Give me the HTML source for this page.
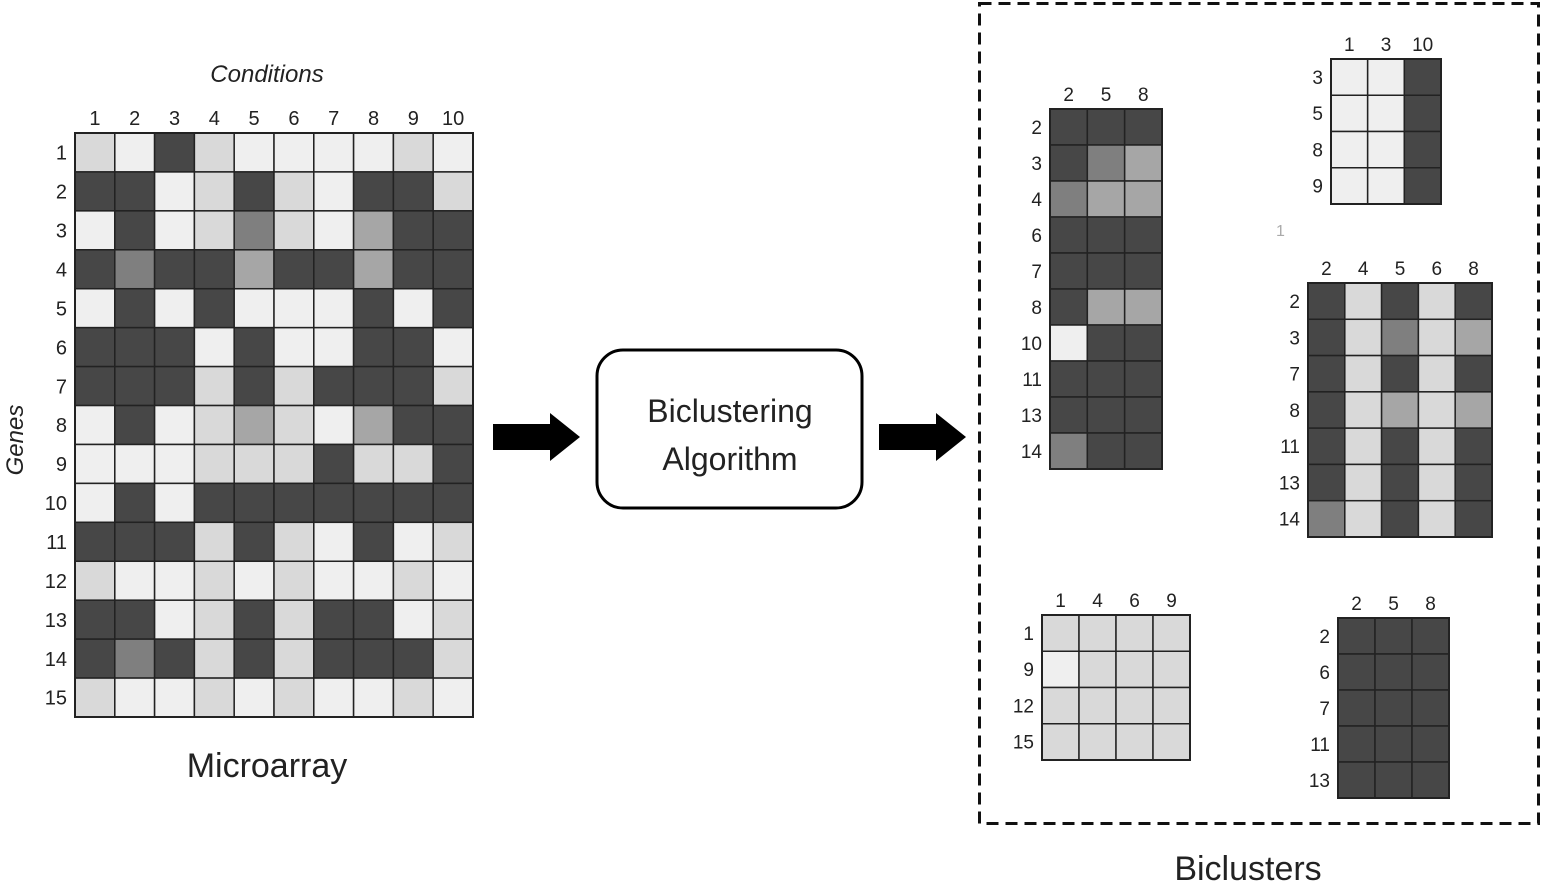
<!DOCTYPE html>
<html><head><meta charset="utf-8">
<style>
html,body{margin:0;padding:0;background:#fff;width:1545px;height:886px;overflow:hidden}
svg{display:block}
text{font-family:"Liberation Sans",sans-serif;fill:#222}
</style></head>
<body>
<svg id="s" width="1545" height="886" viewBox="0 0 1545 886">
  <text x="267" y="82" font-size="24" font-style="italic" text-anchor="middle">Conditions</text>
  <text x="0" y="0" font-size="24" font-style="italic" text-anchor="middle" transform="translate(23,440) rotate(-90)">Genes</text>
  <text x="267" y="777" font-size="34" text-anchor="middle">Microarray</text>
  <polygon points="493,424 550,424 550,413 580,437 550,461 550,450 493,450" fill="#000"/>
  <polygon points="879,424 936,424 936,413 966,437 936,461 936,450 879,450" fill="#000"/>
  <rect x="597" y="350" width="265" height="158" rx="26" fill="#fff" stroke="#000" stroke-width="3"/>
  <text x="730" y="422" font-size="32" text-anchor="middle">Biclustering</text>
  <text x="730" y="470" font-size="32" text-anchor="middle">Algorithm</text>
  <rect x="979.5" y="3.5" width="559" height="820" fill="none" stroke="#111" stroke-width="3" stroke-dasharray="12,7"/>
  <text x="1248" y="880" font-size="34" text-anchor="middle">Biclusters</text>
  <text x="1276" y="236" font-size="16" fill="#aaa" style="fill:#aaa">1</text>
</svg>
<script>
// D=dark, W=near white, L=light grey, M=medium grey, A=mid-light grey
const mainCols = ["1","2","3","4","5","6","7","8","9","10"];
const mainRows = ["1","2","3","4","5","6","7","8","9","10","11","12","13","14","15"];
const mainCells = [
"LWDLWWWWLW","DDWLDLWDDL","WDWLMLWADD","DMDDADDADD","WDWDWWWDWD",
"DDDWDWWDDW","DDDLDLDDDL","WDWLALWADD","WWWLLLDLLD","WDWDDDDDDD",
"DDDLDLWDWL","LWWLWLWWLW","DDWLDLDDWL","DMDLDLDDDL","LWWLWLWWLW"];
const b1Cols = ["2","5","8"];
const b1Rows = ["2","3","4","6","7","8","10","11","13","14"];
const b1Cells = ["DDD","DMA","MAA","DDD","DDD","DAA","WDD","DDD","DDD","MDD"];
const b2Cols = ["1","3","10"];
const b2Rows = ["3","5","8","9"];
const b2Cells = ["WWD","WWD","WWD","WWD"];
const b3Cols = ["2","4","5","6","8"];
const b3Rows = ["2","3","7","8","11","13","14"];
const b3Cells = ["DLDLD","DLMLA","DLDLD","DLALA","DLDLD","DLDLD","MLDLD"];
const b4Cols = ["1","4","6","9"];
const b4Rows = ["1","9","12","15"];
const b4Cells = ["LLLL","WLLL","LLLL","LLLL"];
const b5Cols = ["2","5","8"];
const b5Rows = ["2","6","7","11","13"];
const b5Cells = ["DDD","DDD","DDD","DDD","DDD"];

const shade = {D:"#474747",W:"#efefef",L:"#d9d9d9",M:"#7f7f7f",A:"#a6a6a6"};
const NS="http://www.w3.org/2000/svg";
const svg=document.getElementById('s');
function mk(t,a){const e=document.createElementNS(NS,t);for(const k in a)e.setAttribute(k,a[k]);svg.appendChild(e);return e;}

function grid(name,cols,rows,cells,x0,y0,x1,y1,fs){
  const cw=(x1-x0)/cols.length, ch=(y1-y0)/rows.length;
  rows.forEach((r,i)=>{
    cols.forEach((c,j)=>{
      const e=mk('rect',{x:x0+j*cw,y:y0+i*ch,width:cw,height:ch,fill:shade[cells[i][j]],stroke:'#222','stroke-width':1.5});
      
      
    });
    const t=mk('text',{x:x0-8,y:y0+i*ch+ch/2+fs*0.36,'font-size':fs,'text-anchor':'end'});
    t.textContent=r;
    
    
  });
  cols.forEach((c,j)=>{
    const t=mk('text',{x:x0+j*cw+cw/2,y:y0-8,'font-size':fs,'text-anchor':'middle'});
    t.textContent=c;
    
    
  });
  const o=mk('rect',{x:x0,y:y0,width:x1-x0,height:y1-y0,fill:'none',stroke:'#222','stroke-width':2});
  
  
}
grid('microarray',mainCols,mainRows,mainCells,75,133,473,717,20);
grid('bicluster-1',b1Cols,b1Rows,b1Cells,1050,109,1162,469,19);
grid('bicluster-2',b2Cols,b2Rows,b2Cells,1331,59,1441,204,19);
grid('bicluster-3',b3Cols,b3Rows,b3Cells,1308,283,1492,537,19);
grid('bicluster-4',b4Cols,b4Rows,b4Cells,1042,615,1190,760,19);
grid('bicluster-5',b5Cols,b5Rows,b5Cells,1338,618,1449,798,19);
</script>
</body></html>
